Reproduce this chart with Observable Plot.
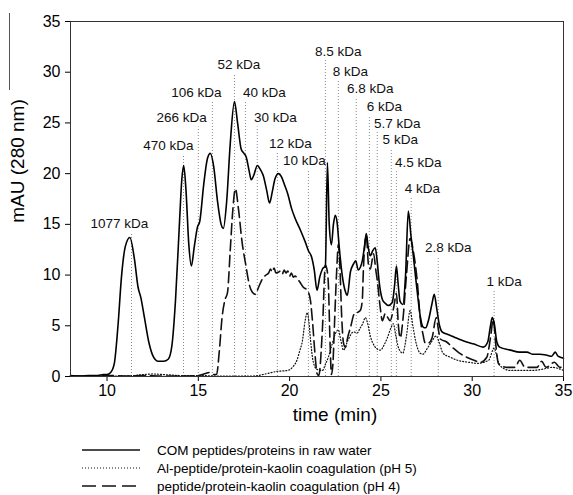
<!DOCTYPE html>
<html><head><meta charset="utf-8">
<script src="https://cdn.jsdelivr.net/npm/d3@7"></script>
<script src="https://cdn.jsdelivr.net/npm/@observablehq/plot@0.6"></script>
<style>
body{margin:0;background:#fff;font-family:"Liberation Sans",Arial,sans-serif;color:#000;}
#wrap{position:relative;width:573px;height:495px;overflow:hidden;}
#chart{position:absolute;left:0;top:0;}
.ylab{position:absolute;left:18px;top:161px;transform:translate(-50%,-50%) rotate(-90deg);white-space:nowrap;font-size:19px;}
.ybar{position:absolute;left:9px;top:13px;height:77px;border-left:1px solid #555;}
.xlab{position:absolute;left:335px;top:415px;transform:translate(-50%,-50%);white-space:nowrap;font-size:19px;}
.legend{position:absolute;left:82px;top:441px;font-size:13.5px;}
.legend .row{display:flex;align-items:center;height:18px;}
.legend svg{width:60px;height:10px;margin-right:15px;}
</style></head><body>
<div id="wrap"><div id="chart"></div>
<div class="ybar"></div><div class="ylab">mAU (280 nm)</div>
<div class="xlab">time (min)</div>
<div class="legend" id="legend"></div>
</div>
<script>
// ---- data ----
const seriesNames = ["COM peptides/proteins in raw water","Al-peptide/protein-kaolin coagulation (pH 5)","peptide/protein-kaolin coagulation (pH 4)"];

const solidTime = [8.0,8.5,9.0,9.5,9.8,10.0,10.2,10.4,10.6,10.8,11.0,11.25,11.5,11.7,11.85,12.05,12.3,12.55,12.8,13.1,13.35,13.55,13.75,13.95,14.1,14.2,14.32,14.48,14.62,14.78,14.95,15.08,15.3,15.5,15.66,15.85,16.05,16.25,16.37,16.55,16.75,16.98,17.15,17.35,17.5,17.63,17.78,17.9,18.05,18.23,18.4,18.56,18.75,18.9,19.05,19.2,19.39,19.55,19.7,19.9,20.1,20.3,20.6,20.85,21.03,21.2,21.35,21.5,21.65,21.8,21.96,22.07,22.17,22.29,22.4,22.5,22.6,22.72,22.88,23.05,23.16,23.33,23.5,23.62,23.76,23.88,23.98,24.1,24.2,24.3,24.42,24.55,24.69,24.8,24.9,25.08,25.25,25.4,25.62,25.75,25.85,25.95,26.05,26.2,26.35,26.5,26.65,26.77,26.9,27.0,27.15,27.3,27.45,27.6,27.8,27.92,28.05,28.2,28.35,28.6,29.0,29.4,29.7,30.1,30.6,30.85,31.0,31.1,31.2,31.35,31.5,32.1,32.6,33.0,33.3,33.7,34.1,34.35,34.55,34.7,35.0];
const solidValue = [0.1,0.05,0.1,0.1,0.2,0.2,0.4,1.3,5.0,10.0,12.8,13.7,11.6,8.8,7.8,5.8,3.3,1.9,1.5,1.5,1.7,3.0,7.5,14.5,19.5,20.8,18.5,13.0,10.9,12.8,14.7,15.3,19.0,21.5,22.0,20.6,17.3,15.0,14.6,17.2,23.0,27.1,25.0,22.4,22.0,21.6,20.3,19.4,19.9,20.8,20.4,19.8,18.3,17.1,18.2,19.5,20.0,19.7,19.0,18.0,16.6,15.6,14.4,13.3,12.4,11.8,10.5,8.5,9.8,10.6,10.9,21.1,15.0,13.0,15.0,15.9,15.2,12.7,10.0,8.4,8.0,10.3,11.1,11.4,10.5,10.8,11.4,12.8,14.1,12.8,11.9,12.4,12.7,11.3,9.4,7.6,7.2,7.0,7.3,9.0,10.9,9.0,7.4,7.1,10.0,16.3,13.8,12.0,9.8,8.2,6.0,4.9,4.8,5.5,7.2,8.1,6.8,5.1,4.4,4.2,3.9,3.6,3.4,3.2,2.9,3.4,5.0,5.8,5.3,3.4,2.9,2.6,2.4,2.4,2.2,2.2,2.1,2.0,2.4,2.0,1.8];

const dottedTime = [8.0,9.0,10.0,11.0,11.5,12.0,12.5,13.0,13.5,14.0,15.0,16.0,17.0,18.0,18.8,19.3,19.9,20.2,20.4,20.55,20.7,20.85,20.97,21.05,21.15,21.3,21.5,21.8,21.96,22.12,22.3,22.5,22.67,22.8,22.95,23.2,23.5,23.7,23.87,24.0,24.15,24.25,24.42,24.69,24.97,25.2,25.35,25.55,25.68,25.82,25.95,26.2,26.4,26.6,26.75,26.9,27.15,27.3,27.55,27.8,28.03,28.2,28.4,28.8,29.2,29.8,30.3,30.9,31.2,31.35,31.5,32.08,32.7,33.3,33.8,34.4,34.7,35.0];
const dottedValue = [0.05,0.05,0.05,0.05,0.1,0.2,0.25,0.2,0.15,0.1,0.1,0.05,0.05,0.05,0.3,0.5,0.6,1.0,1.6,2.5,3.5,5.5,6.3,5.5,3.5,1.4,0.7,0.6,1.2,1.9,3.0,4.2,4.6,3.6,2.6,3.6,4.4,4.3,4.8,5.2,5.8,5.4,4.0,2.9,2.6,3.2,3.8,4.8,5.2,4.0,2.9,2.3,4.0,6.5,5.0,3.5,2.3,2.2,2.8,3.5,4.0,3.3,2.3,1.9,1.6,1.4,1.3,1.6,2.8,2.0,1.1,0.6,0.6,0.6,0.7,0.9,0.8,0.6];

const dashedTime = [8.0,9.0,10.0,11.0,12.0,13.0,14.0,15.0,15.4,15.6,15.8,16.0,16.15,16.3,16.45,16.6,16.75,16.88,17.03,17.2,17.4,17.6,17.8,17.96,18.12,18.3,18.5,18.7,18.85,18.95,19.05,19.15,19.25,19.4,19.5,19.6,19.7,19.8,19.9,20.0,20.1,20.2,20.3,20.45,20.6,20.75,20.97,21.14,21.25,21.4,21.5,21.6,21.8,21.96,22.05,22.12,22.22,22.29,22.38,22.45,22.58,22.67,22.75,22.85,22.95,23.05,23.2,23.33,23.55,23.7,23.87,23.98,24.04,24.2,24.32,24.42,24.6,24.72,24.8,24.95,25.08,25.24,25.38,25.5,25.7,25.85,25.95,26.06,26.2,26.4,26.6,26.8,27.0,27.15,27.3,27.43,27.6,27.8,28.03,28.15,28.25,28.6,28.96,29.3,29.7,30.1,30.44,30.8,31.0,31.15,31.3,31.43,31.9,32.35,32.6,32.9,33.55,33.8,34.05,34.5,34.8,35.0];
const dashedValue = [0.05,0.05,0.1,0.05,0.1,0.05,0.05,0.1,0.3,0.4,0.2,0.2,2.5,5.8,7.5,8.3,12.5,16.2,18.5,16.5,13.2,11.0,9.0,8.3,8.1,8.8,9.6,10.0,10.2,10.6,10.3,10.7,10.2,10.3,10.4,10.1,10.5,10.2,10.4,9.9,10.2,9.8,9.9,9.6,9.2,8.8,8.5,7.5,5.5,2.0,0.3,0.1,4.8,11.0,10.5,9.2,3.0,0.2,1.5,4.8,10.5,13.0,11.0,6.0,3.3,2.9,4.0,4.8,6.2,6.3,6.5,7.5,10.5,13.9,11.0,10.6,12.1,10.5,9.5,7.0,5.5,6.2,5.8,5.5,6.8,8.2,5.2,3.8,5.5,10.0,13.6,12.1,9.2,5.8,4.2,3.3,3.3,3.8,5.8,4.6,3.7,3.4,2.8,2.3,1.9,1.6,1.4,1.9,3.8,5.6,3.0,1.3,0.9,0.9,1.6,0.9,0.9,1.5,0.9,1.4,0.9,1.0];

const peakLabels = ["1077 kDa","470 kDa","266 kDa","106 kDa","52 kDa","40 kDa","30 kDa","12 kDa","10 kDa","8.5 kDa","8 kDa","6.8 kDa","6 kDa","5.7 kDa","5 kDa","4.5 kDa","4 kDa","2.8 kDa","1 kDa"];
const peakTime = [11.34,14.19,15.0,15.77,16.98,17.58,18.23,19.33,21.03,21.96,22.67,23.65,24.37,24.8,25.57,25.85,26.66,28.14,31.2];
const labelTime = [10.68,13.36,14.08,14.9,17.22,18.62,19.22,20.04,20.81,22.67,23.33,24.42,25.19,25.9,26.06,27.05,27.27,28.69,31.75];
const labelValue = [15.1,22.8,25.5,28.0,30.7,28.0,25.5,23.0,21.3,32.05,30.1,28.4,26.6,24.95,23.3,21.1,18.55,12.7,9.3];

const xTicks = [10,15,20,25,30,35];
const yTicks = [0,5,10,15,20,25,30,35];

// ---- build ----
const toRows = (ts, vs) => ts.map((t,i) => ({t, v: vs[i]}));
const solid = toRows(solidTime, solidValue);
const dotted = toRows(dottedTime, dottedValue);
const dashed = toRows(dashedTime, dashedValue);
const annot = peakLabels.map((label,i) => ({label, pt: peakTime[i], lt: labelTime[i], lv: labelValue[i]}));

const chart = Plot.plot({
  width: 573, height: 432,
  marginLeft: 70, marginRight: 10, marginTop: 21, marginBottom: 56,
  style: {fontFamily: "'Liberation Sans', Arial, sans-serif", fontSize: "16px", color: "#000", background: "#fff", overflow: "visible"},
  x: {domain: [8, 35], ticks: xTicks, tickSize: 5, tickPadding: 3, label: null},
  y: {domain: [0, 35], ticks: yTicks, tickSize: 5, tickPadding: 5, label: null},
  marks: [
    Plot.ruleX(annot, {x: "pt", y1: 0, y2: d => d.lv - 0.9, stroke: "#8a8a8a", strokeWidth: 1, strokeDasharray: "1,2"}),
    Plot.line(dotted, {x: "t", y: "v", stroke: "#111", strokeWidth: 1.2, strokeDasharray: "1,2", curve: "monotone-x"}),
    Plot.line(dashed, {x: "t", y: "v", stroke: "#111", strokeWidth: 1.6, strokeDasharray: "11,5", curve: "monotone-x"}),
    Plot.line(solid, {x: "t", y: "v", stroke: "#000", strokeWidth: 1.6, curve: "monotone-x"}),
    Plot.text(annot, {x: "lt", y: "lv", text: "label", fontSize: 13.5, fill: "#111"}),
    Plot.frame({stroke: "#333", strokeWidth: 1})
  ]
});
document.getElementById("chart").appendChild(chart);

// legend
const styles = [{dash: null}, {dash: "1,2", w: 1.2}, {dash: "14,6", w: 1.6}];
const leg = document.getElementById("legend");
seriesNames.forEach((name, i) => {
  const row = document.createElement("div");
  row.className = "row";
  const s = styles[i];
  row.innerHTML = `<svg viewBox="0 0 60 10"><line x1="0" y1="5" x2="58" y2="5" stroke="#111" stroke-width="${s.w || 1.6}" ${s.dash ? `stroke-dasharray="${s.dash}"` : ""}/></svg><span>${name}</span>`;
  leg.appendChild(row);
});
</script>
</body></html>
